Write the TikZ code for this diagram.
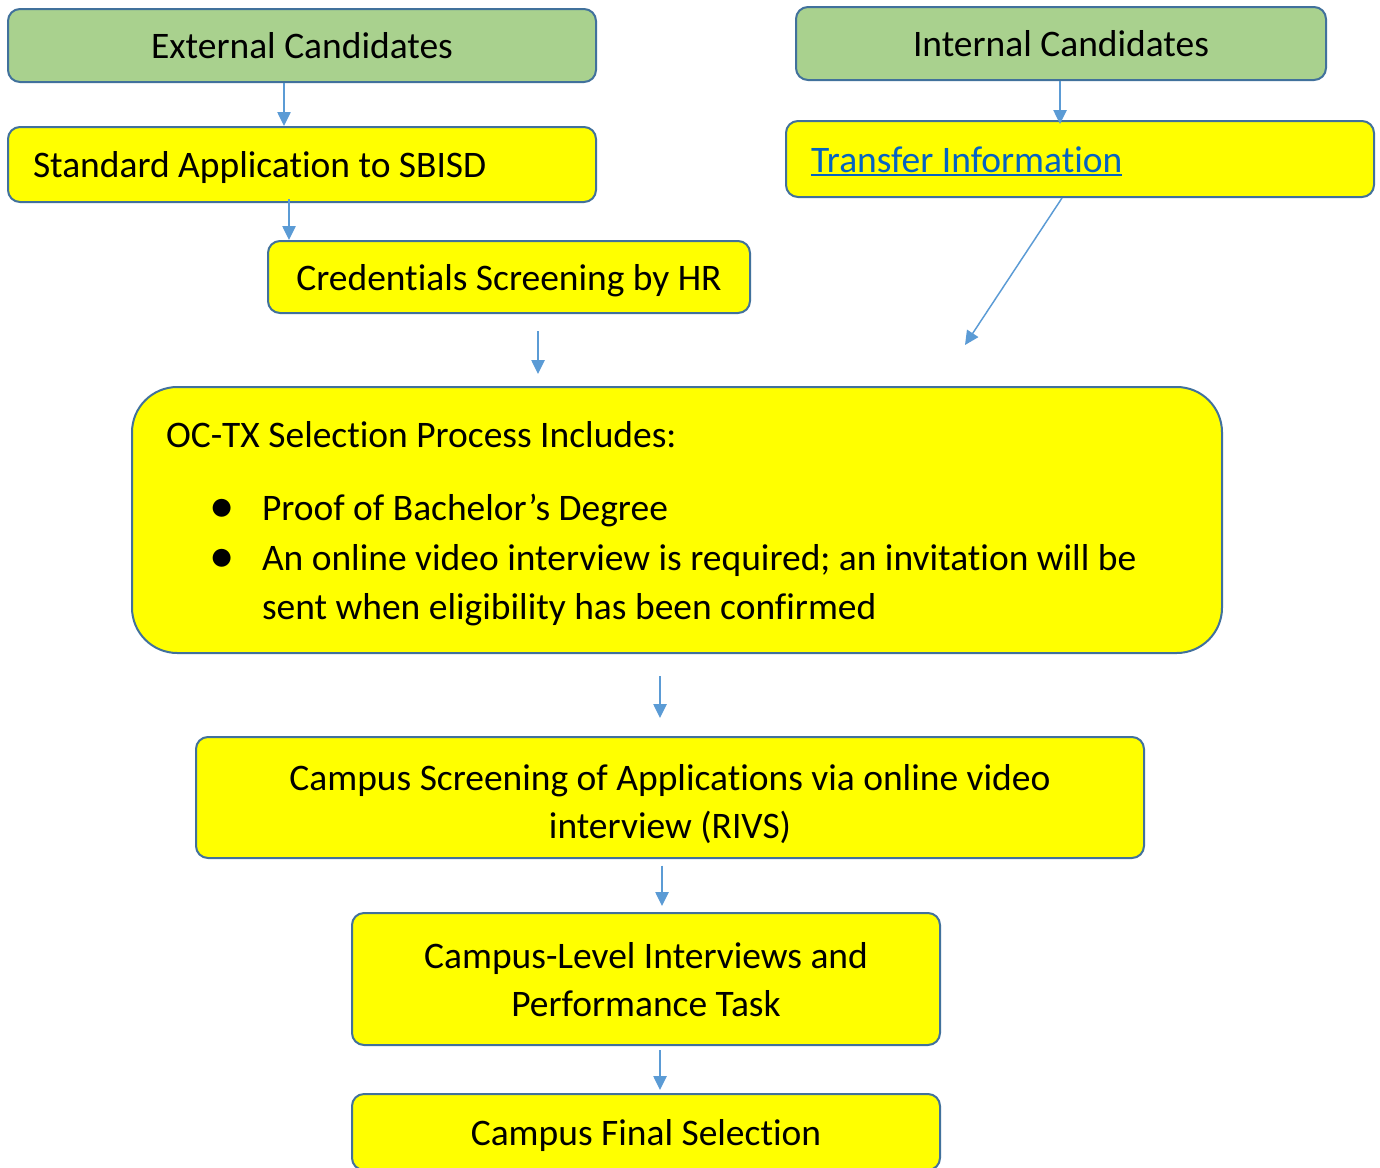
\documentclass[tikz,border=0pt]{standalone}
\usepackage{fontspec}
\setmainfont{Carlito}[Ligatures=NoCommon]
\usetikzlibrary{arrows.meta}
\definecolor{boxgreen}{HTML}{A9D18E}
\definecolor{boxyellow}{HTML}{FFFF00}
\definecolor{boxline}{HTML}{41719C}
\definecolor{arrowblue}{HTML}{5B9BD5}
\definecolor{linkblue}{HTML}{0563C1}
\newcommand{\mybul}{\hspace*{42pt}\makebox[0pt]{\raisebox{-1.5pt}{\fontsize{38}{36}\selectfont\textbullet}}\hspace{30pt}}
\newcommand{\topstrut}[1]{\rule{0pt}{#1}}
\newcommand{\botstrut}{\rule[-5.5pt]{0pt}{5.5pt}}
\newcommand{\linkul}[1]{\setbox0=\hbox{#1}\rlap{\rule[-3pt]{\wd0}{1.4pt}}\box0}
\begin{document}
\begin{tikzpicture}[x=0.75pt,y=-0.75pt,
 box/.style={draw=boxline, line width=1.5pt, rounded corners=9pt, fill=boxyellow, inner sep=0pt, font=\fontsize{28.1}{36}\selectfont, text=black},
 oneline/.style={box, text height=25pt, text depth=5.5pt},
 greenbox/.style={oneline, fill=boxgreen},
 conn/.style={draw=arrowblue, line width=1.1pt, -{Triangle[width=10pt,length=10.5pt]}}]
\useasboundingbox (0,0) rectangle (1380,1167);
\fill[white] (0,0) rectangle (1380,1167);

\node[greenbox, minimum width=441pt, minimum height=54.75pt] (ext) at (302,45.5) {External Candidates};
\node[oneline, minimum width=441pt, minimum height=56.25pt, text width=403.5pt, align=flush left] (std) at (302,164.5) {Standard Application to SBISD};
\node[oneline, minimum width=361.5pt, minimum height=54pt] (cred) at (509,277) {Credentials Screening by HR};

\node[greenbox, minimum width=397.5pt, minimum height=54.75pt] (int) at (1061,43.5) {Internal Candidates};
\node[oneline, minimum width=441pt, minimum height=57pt, text width=403.5pt, align=flush left] (tr) at (1080,159) {\textcolor{linkblue}{\linkul{Transfer Information}}};

\node[box, rounded corners=34pt, minimum width=817.5pt, minimum height=199.5pt, text width=766.5pt, align=flush left] (oc) at (677,520)
 {\topstrut{25pt}OC-TX Selection Process Includes:\\[18.75pt]
  \mybul Proof of Bachelor’s Degree\\[1.5pt]
  \mybul An online video interview is required; an invitation will be\\[0.75pt]
  \hspace*{72pt}sent when eligibility has been confirmed\botstrut};

\node[box, minimum width=711pt, minimum height=90.75pt, align=center] (cs) at (670,797.5) {\topstrut{30.25pt}Campus Screening of Applications via online video\\interview (RIVS)\botstrut};
\node[box, minimum width=441pt, minimum height=99pt, align=center] (cl) at (646,979) {\topstrut{25pt}Campus-Level Interviews and\\Performance Task\botstrut};
\node[oneline, minimum width=441pt, minimum height=57pt] (cf) at (646,1132) {Campus Final Selection};

\coordinate (f1s) at (538,331);
\coordinate (f1e) at (538,374);
\coordinate (d1) at (965,345);
\coordinate (f2s) at (660,676);
\coordinate (f2e) at (660,718);

\draw[conn] ([xshift=-13.5pt]ext.south) -- ([xshift=-13.5pt]std.north);
\draw[conn] ([xshift=-9.75pt,yshift=3pt]std.south) -- ([xshift=16.5pt]cred.north west);
\draw[conn] (f1s) -- (f1e);
\draw[conn] ([xshift=-0.75pt]int.south) -- ([xshift=-15pt,yshift=-3pt]tr.north);
\draw[conn] ([xshift=-13.5pt]tr.south) -- (d1);
\draw[conn] (f2s) -- (f2e);
\draw[conn] ([xshift=-6pt,yshift=-5pt]cs.south) -- ([xshift=12pt,yshift=4.5pt]cl.north);
\draw[conn] ([xshift=10.5pt,yshift=-3pt]cl.south) -- ([xshift=10.5pt,yshift=2.25pt]cf.north);
\end{tikzpicture}
\end{document}
